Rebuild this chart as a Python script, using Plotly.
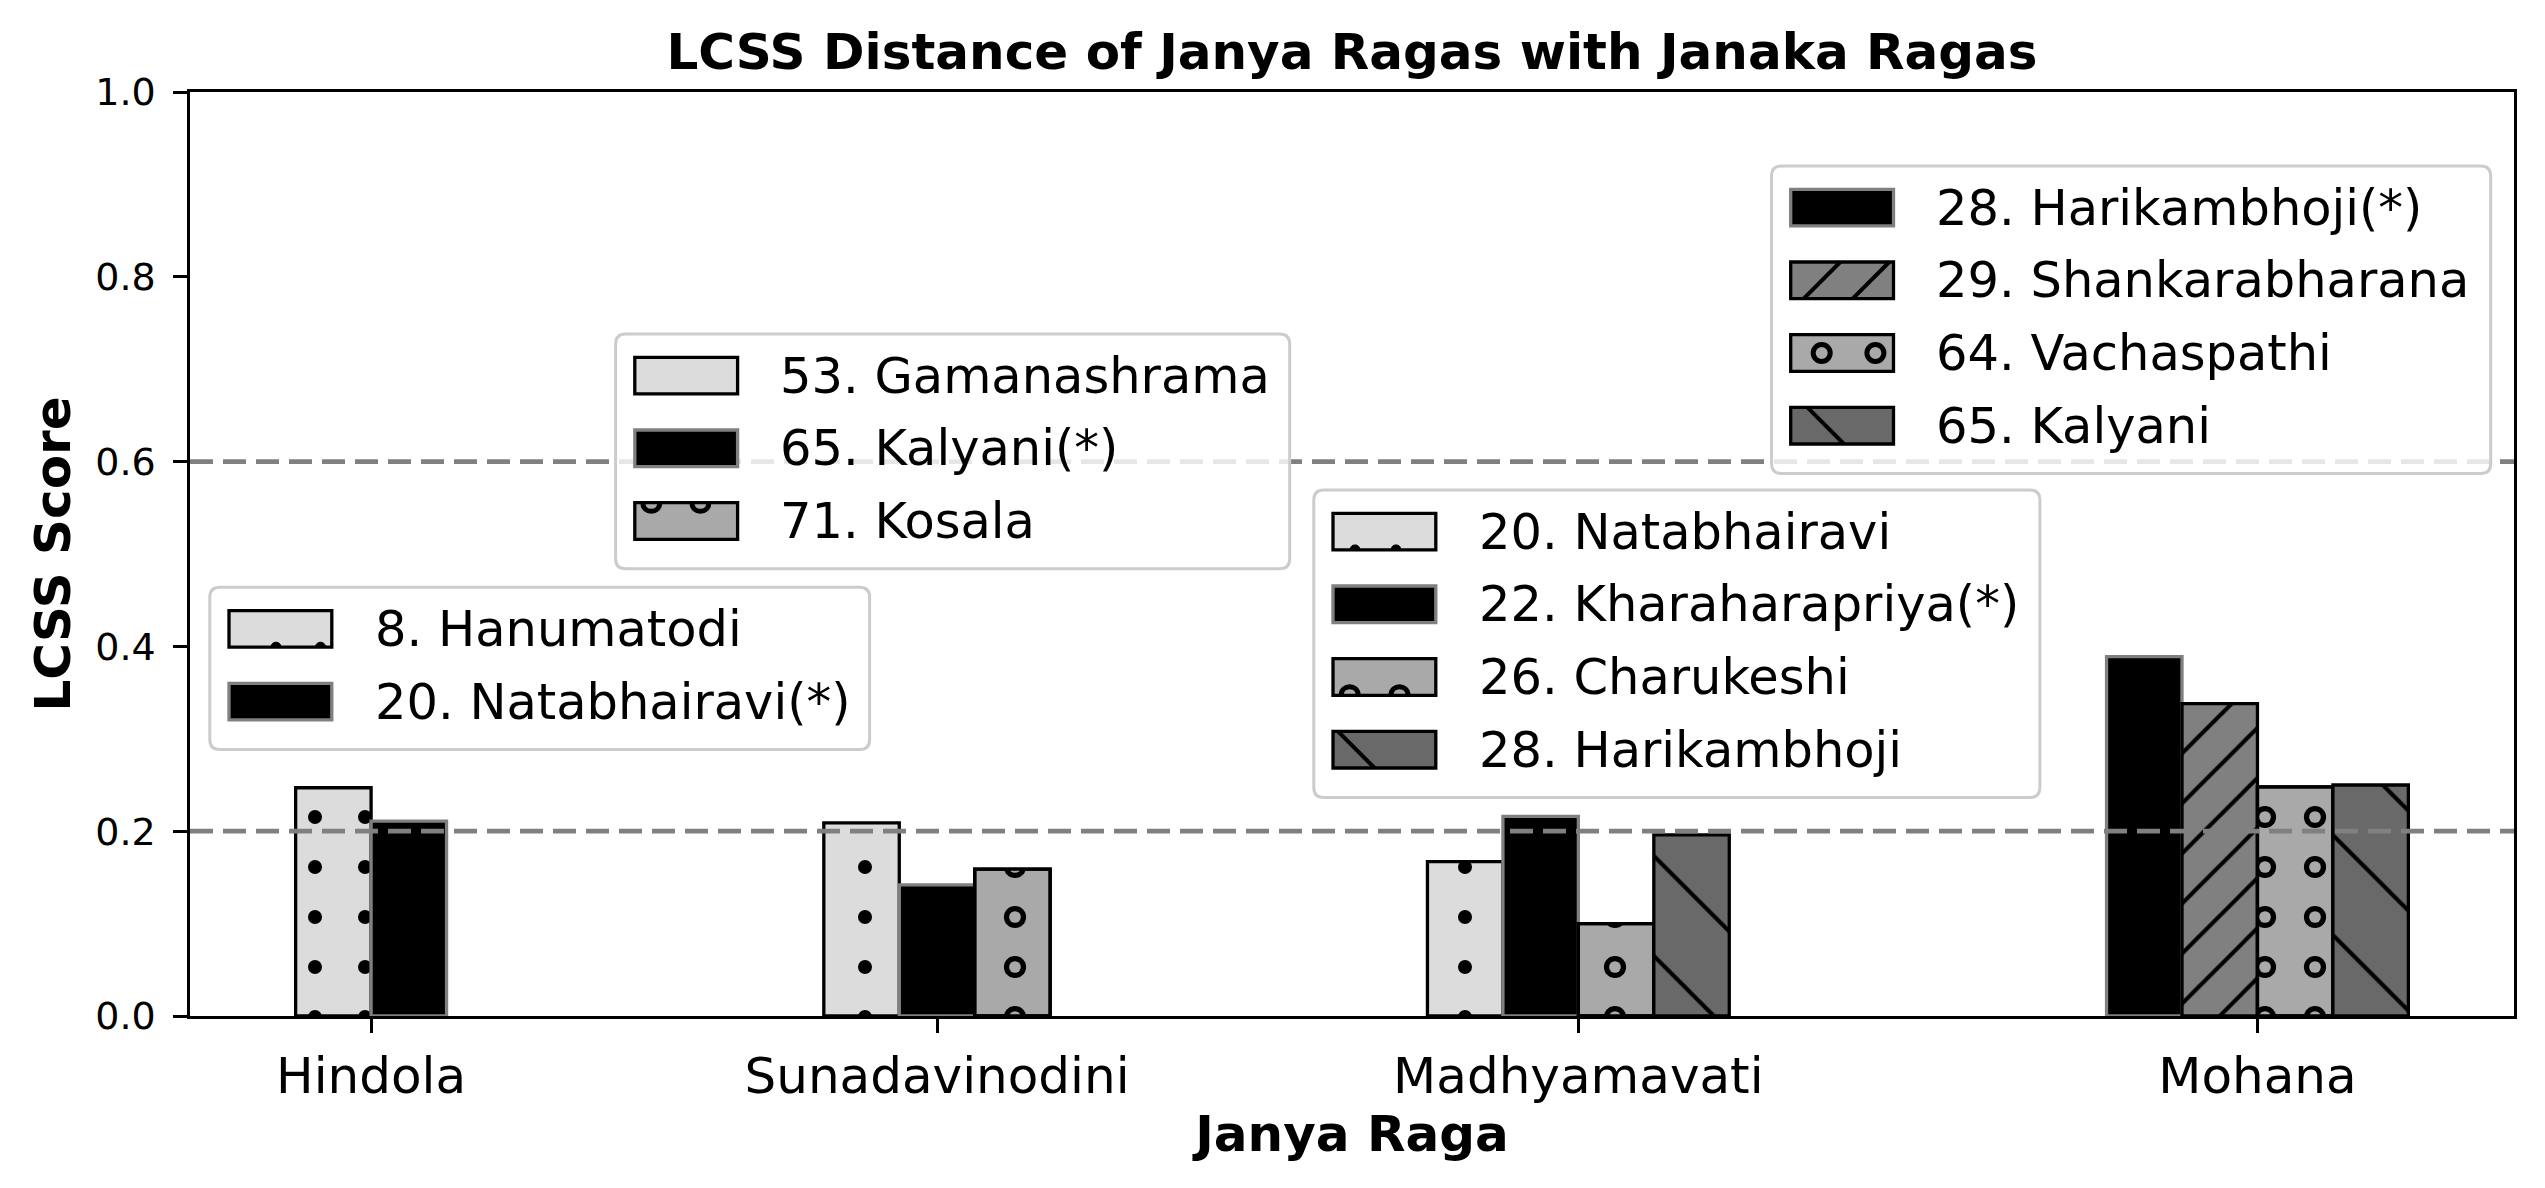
import plotly.graph_objects as go

# ---------------- data ----------------
janya_ragas = ["Hindola", "Sunadavinodini", "Madhyamavati", "Mohana"]

hindola_janaka = ["8. Hanumatodi", "20. Natabhairavi(*)"]
hindola_lcss = [0.247, 0.211]

sunadavinodini_janaka = ["53. Gamanashrama", "65. Kalyani(*)", "71. Kosala"]
sunadavinodini_lcss = [0.209, 0.142, 0.159]

madhyamavati_janaka = ["20. Natabhairavi", "22. Kharaharapriya(*)", "26. Charukeshi", "28. Harikambhoji"]
madhyamavati_lcss = [0.167, 0.216, 0.100, 0.196]

mohana_janaka = ["28. Harikambhoji(*)", "29. Shankarabharana", "64. Vachaspathi", "65. Kalyani"]
mohana_lcss = [0.389, 0.338, 0.248, 0.250]

threshold_levels = [0.2, 0.6]
y_tick_values = [0.0, 0.2, 0.4, 0.6, 0.8, 1.0]

# ---------------- styles / layout ----------------
FONT = "DejaVu Sans"
W, H = 2545, 1188
PL, PR, PT, PB = 190, 2514, 92, 1016  # plot area in pixels

group_janaka = [hindola_janaka, sunadavinodini_janaka, madhyamavati_janaka, mohana_janaka]
group_lcss = [hindola_lcss, sunadavinodini_lcss, madhyamavati_lcss, mohana_lcss]
group_styles = [["dot", "star"], ["dot", "star", "ring"],
                ["dot", "star", "ring", "back"], ["star", "slash", "ring", "back"]]
group_centers = [0.0, 1.5, 3.2, 5.0]
BAR_W = 0.2
EDGE_W = 3.3

STYLE = {
    "dot": dict(fill="#dcdcdc", edge="black", pattern=dict(shape=".", size=50, solidity=0.062)),
    "star": dict(fill="black", edge="#808080", pattern=None),
    "ring": dict(fill="#a9a9a9", edge="black", pattern=dict(shape=".", size=50, solidity=0.155),
                 inner=dict(shape=".", size=50, solidity=0.043)),
    "slash": dict(fill="#808080", edge="black", pattern=dict(shape="/", size=35.4, solidity=0.115)),
    "back": dict(fill="#696969", edge="black", pattern=dict(shape="\\", size=70.7, solidity=0.058)),
}

fig = go.Figure()

for center, labels, vals, styles in zip(group_centers, group_janaka, group_lcss, group_styles):
    n = len(vals)
    for i, (lab, v, st) in enumerate(zip(labels, vals, styles)):
        xpos = center + (i - (n - 1) / 2) * BAR_W
        s = STYLE[st]
        marker = dict(color=s["fill"], line=dict(color=s["edge"], width=EDGE_W))
        if s["pattern"]:
            marker["pattern"] = dict(**s["pattern"], fgcolor="black", bgcolor=s["fill"], fillmode="replace")
        fig.add_trace(go.Bar(x=[xpos], y=[v], width=[BAR_W], marker=marker, name=lab,
                             showlegend=False, hoverinfo="name+y"))
        if "inner" in s:
            fig.add_trace(go.Bar(
                x=[xpos], y=[v], width=[BAR_W], showlegend=False, hoverinfo="skip",
                marker=dict(color="rgba(0,0,0,0)", line=dict(color="black", width=EDGE_W),
                            pattern=dict(**s["inner"], fgcolor=s["fill"],
                                         bgcolor="rgba(0,0,0,0)", fillmode="replace"))))

lo = min(c - len(v) * BAR_W / 2 for c, v in zip(group_centers, group_lcss))
hi = max(c + len(v) * BAR_W / 2 for c, v in zip(group_centers, group_lcss))
pad = 0.05 * (hi - lo)


def fx(px):
    return (px - PL) / (PR - PL)


def fy(py):
    return (PB - py) / (PB - PT)


shapes = []
for t in threshold_levels:
    shapes.append(dict(type="line", xref="paper", yref="y", x0=0, x1=1, y0=t, y1=t,
                       line=dict(color="#808080", width=4.8, dash="23px,10px"), layer="above"))

# ---------------- legends (one per janya raga) ----------------
legend_boxes = [(209.8, 587.3, 659.8), (615.6, 334.0, 674.1),
                (1313.8, 490.0, 726.1), (1771.5, 166.0, 719.2)]
ROW0, ROWSTEP, ROWEND = 41.6, 72.7, 47.8
HANDLE_OFF, HANDLE_W, HANDLE_HH, TEXT_OFF = 19.2, 102.8, 18.3, 162.7

handle_hatch = {
    "8. Hanumatodi": [("halfdot_bottom", 47), ("halfdot_bottom", 91.5)],
    "20. Natabhairavi": [("halfdot_bottom", 22), ("halfdot_bottom", 63)],
    "71. Kosala": [("halfring_top", 16.5), ("halfring_top", 65.6)],
    "26. Charukeshi": [("halfring_bottom", 16.7), ("halfring_bottom", 66.5)],
    "64. Vachaspathi": [("ring", 31), ("ring", 84.7)],
    "29. Shankarabharana": [("slash", 13), ("slash", 62)],
    "28. Harikambhoji": [("back", 5)],
    "65. Kalyani": [("back", 16.7)],
}


def rrect_path(x0, y0, x1, y1, r):
    P = lambda x, y: f"{fx(x)},{fy(y)}"
    return (f"M {P(x0 + r, y0)} L {P(x1 - r, y0)} Q {P(x1, y0)} {P(x1, y0 + r)} "
            f"L {P(x1, y1 - r)} Q {P(x1, y1)} {P(x1 - r, y1)} L {P(x0 + r, y1)} "
            f"Q {P(x0, y1)} {P(x0, y1 - r)} L {P(x0, y0 + r)} Q {P(x0, y0)} {P(x0 + r, y0)} Z")


def semicircle(cx, cy, r, down):
    k = 4.0 / 3.0 * r * (1 if down else -1)
    P = lambda x, y: f"{fx(x)},{fy(y)}"
    return f"M {P(cx - r, cy)} C {P(cx - r, cy + k)} {P(cx + r, cy + k)} {P(cx + r, cy)}"


annotations = []
for (L, T, BW), labels, styles in zip(legend_boxes, group_janaka, group_styles):
    n = len(labels)
    BH = ROW0 + ROWSTEP * (n - 1) + ROWEND
    shapes.append(dict(type="path", xref="paper", yref="paper", path=rrect_path(L, T, L + BW, T + BH, 10),
                       fillcolor="rgba(255,255,255,0.8)", line=dict(color="#cccccc", width=3), layer="above"))
    for i, (lab, st) in enumerate(zip(labels, styles)):
        s = STYLE[st]
        cy = T + ROW0 + ROWSTEP * i
        hl, hr = L + HANDLE_OFF, L + HANDLE_OFF + HANDLE_W
        ht, hb = cy - HANDLE_HH, cy + HANDLE_HH
        hh = hb - ht
        shapes.append(dict(type="rect", xref="paper", yref="paper", x0=fx(hl), x1=fx(hr), y0=fy(hb), y1=fy(ht),
                           fillcolor=s["fill"], line=dict(color=s["edge"], width=EDGE_W), layer="above"))
        for kind, o in handle_hatch.get(lab, []):
            x = hl + o
            if kind == "slash":
                x2 = min(x + hh, hr)
                shapes.append(dict(type="line", xref="paper", yref="paper", x0=fx(x), y0=fy(hb),
                                   x1=fx(x2), y1=fy(hb - (x2 - x)), line=dict(color="black", width=4), layer="above"))
            elif kind == "back":
                x2 = min(x + hh, hr)
                shapes.append(dict(type="line", xref="paper", yref="paper", x0=fx(x), y0=fy(ht),
                                   x1=fx(x2), y1=fy(ht + (x2 - x)), line=dict(color="black", width=4), layer="above"))
            elif kind == "ring":
                shapes.append(dict(type="circle", xref="paper", yref="paper", x0=fx(x - 8.5), x1=fx(x + 8.5),
                                   y0=fy(cy + 8.5), y1=fy(cy - 8.5), line=dict(color="black", width=5), layer="above"))
            elif kind == "halfring_top":
                shapes.append(dict(type="path", xref="paper", yref="paper", path=semicircle(x, ht, 8.5, True),
                                   line=dict(color="black", width=5), layer="above"))
            elif kind == "halfring_bottom":
                shapes.append(dict(type="path", xref="paper", yref="paper", path=semicircle(x, hb, 8.5, False),
                                   line=dict(color="black", width=5), layer="above"))
            elif kind == "halfdot_bottom":
                shapes.append(dict(type="path", xref="paper", yref="paper", path=semicircle(x, hb, 5, False) + " Z",
                                   fillcolor="black", line=dict(color="black", width=1), layer="above"))
        annotations.append(dict(text=lab, xref="paper", yref="paper", x=fx(L + TEXT_OFF), y=fy(cy),
                                xanchor="left", yanchor="middle", showarrow=False,
                                font=dict(family=FONT, size=49.5, color="black")))

fig.update_layout(
    width=W, height=H,
    margin=dict(l=PL, r=W - PR, t=PT, b=H - PB, pad=0),
    paper_bgcolor="white", plot_bgcolor="white",
    barmode="overlay",
    showlegend=False,
    title=dict(text="LCSS Distance of Janya Ragas with Janaka Ragas",
               font=dict(family=FONT, size=50, weight="bold", color="black"),
               x=0.5, xref="paper", xanchor="center", y=1 - 51 / H, yref="container", yanchor="middle"),
    xaxis=dict(range=[lo - pad, hi + pad], tickmode="array", tickvals=group_centers, ticktext=janya_ragas,
               ticks="outside", ticklen=14, tickwidth=2.5, tickcolor="black",
               showline=True, linecolor="black", linewidth=2.5, mirror=True,
               showgrid=False, zeroline=False,
               tickfont=dict(family=FONT, size=50, color="black"),
               title=dict(text="Janya Raga", standoff=5,
                          font=dict(family=FONT, size=50, weight="bold", color="black"))),
    yaxis=dict(range=[0, 1], tickmode="array", tickvals=y_tick_values, tickformat=".1f",
               ticks="outside", ticklen=14, tickwidth=2.5, tickcolor="black",
               showline=True, linecolor="black", linewidth=2.5, mirror=True,
               showgrid=False, zeroline=False, ticklabelstandoff=10,
               tickfont=dict(family=FONT, size=38, color="black"),
               title=dict(text="LCSS Score", standoff=9,
                          font=dict(family=FONT, size=50, weight="bold", color="black"))),
    shapes=shapes,
    annotations=annotations,
)

fig.write_html("out.html", config={"displayModeBar": False})
